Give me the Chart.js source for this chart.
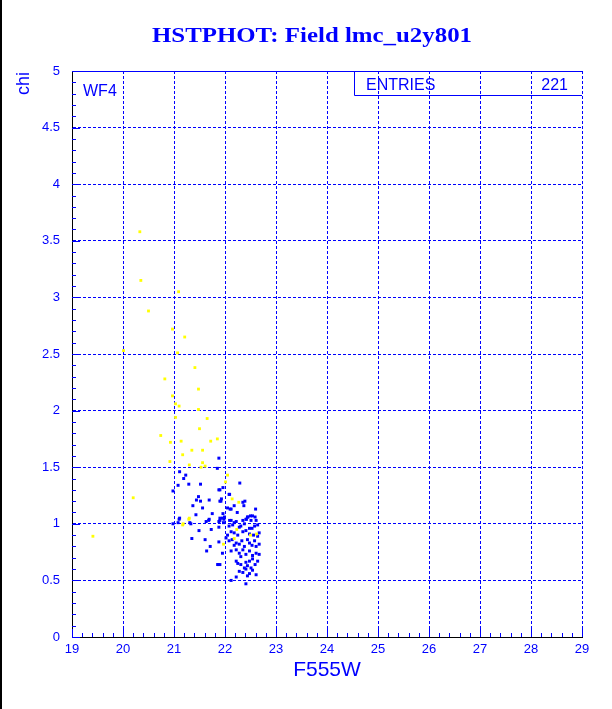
<!DOCTYPE html>
<html>
<head>
<meta charset="utf-8">
<script src="https://cdn.jsdelivr.net/npm/chart.js@4"></script>
<style>
  html, body { margin: 0; padding: 0; background: #fff; }
  #wrap { width: 612px; height: 709px; }
</style>
</head>
<body>
<div id="wrap"><canvas id="grafico" width="612" height="709"></canvas></div>
<script>
// tick labels
const xTickLabels = ['19', '20', '21', '22', '23', '24', '25', '26', '27', '28', '29'];
const yTickLabels = ['0', '0.5', '1', '1.5', '2', '2.5', '3', '3.5', '4', '4.5', '5'];

// yellow stars (F555W, chi)
const yellowF555W = [20.33, 20.35, 21.09, 20.50, 20.97, 21.21, 20.01, 21.07, 21.41, 20.82, 21.48, 20.97, 21.03, 21.10, 21.48, 21.03, 21.65,
  20.74, 20.93, 21.14, 21.50, 21.72, 21.85, 21.17, 21.35, 21.56, 20.92, 21.30, 21.56, 21.61, 21.53, 22.05, 22.01, 22.14, 22.27,
  21.30, 21.18, 22.23, 22.62, 22.50, 21.97, 22.18, 20.20, 19.41, 21.29, 21.17];
const yellowChi = [3.58, 3.15, 3.05, 2.88, 2.72, 2.65, 2.53, 2.51, 2.38, 2.28, 2.19, 2.13, 2.06, 2.04, 2.01, 1.94, 1.93,
  1.78, 1.72, 1.73, 1.84, 1.73, 1.75, 1.61, 1.65, 1.65, 1.55, 1.52, 1.54, 1.51, 1.50, 1.43, 1.37, 1.22, 1.19,
  1.05, 1.00, 0.95, 0.91, 0.90, 0.82, 0.87, 1.23, 0.89, 1.04, 0.99];

// blue stars (F555W, chi)
const blueF555W = [21.88, 21.85, 21.11, 21.23, 21.19, 21.29, 21.52, 21.08, 22.29, 21.96, 21.90, 20.98, 22.09, 21.48, 21.69, 21.52,
  21.44, 21.93, 21.92, 22.39, 21.37, 21.56, 22.05, 22.12, 22.24, 22.37, 22.60, 21.75, 21.96, 22.50, 21.69, 21.11, 21.98, 22.09,
  22.42, 20.98, 21.33, 21.88, 22.08, 21.90, 22.18, 22.35, 22.10, 22.45, 21.90,
  21.10, 21.43, 21.68, 21.63, 21.88, 21.31, 21.08, 21.73, 21.49, 21.35, 21.61, 21.71, 21.64, 21.86, 21.88, 21.88,
  21.95, 21.99, 21.90, 21.97, 22.12, 22.18, 22.22, 22.35, 22.41, 22.44, 22.51, 22.54, 22.59, 22.61,
  22.08, 22.15, 22.28, 22.31, 22.38, 22.48, 22.53, 22.58, 22.64,
  22.12, 22.18, 22.25, 22.35, 22.41, 22.48, 22.56, 22.64, 22.67, 22.05, 22.02,
  22.08, 22.14, 22.22, 22.28, 22.33, 22.38, 22.44, 22.48, 22.53, 22.58, 22.61, 22.67, 22.18,
  22.12, 22.22, 22.28, 22.35, 22.41, 22.48, 22.54, 22.61, 22.67, 22.31, 21.95,
  22.22, 22.25, 22.31, 22.41, 22.48, 22.54, 22.59, 22.38, 22.44, 22.51, 22.64,
  22.28, 22.35, 22.41, 22.48, 22.54, 22.61, 22.44, 22.22, 21.90, 21.86,
  22.12, 22.41];
const blueChi = [1.58, 1.49, 1.46, 1.43, 1.40, 1.35, 1.35, 1.34, 1.36, 1.32, 1.30, 1.29, 1.26, 1.24, 1.21, 1.20,
  1.21, 1.22, 1.20, 1.20, 1.16, 1.14, 1.14, 1.13, 1.10, 1.16, 1.13, 1.09, 1.09, 1.07, 1.04, 1.05, 1.04, 1.03,
  1.04, 1.00, 1.00, 1.30, 1.26, 1.20, 1.16, 1.19, 1.13, 1.06, 1.05,
  1.04, 1.08, 1.03, 1.02, 1.02, 1.01, 1.01, 0.95, 0.94, 0.87, 0.86, 0.80, 0.76, 0.64, 0.84, 0.97,
  1.05, 1.06, 1.03, 1.01, 1.03, 1.01, 1.02, 1.03, 1.04, 1.06, 1.03, 1.07, 1.06, 1.03,
  0.98, 0.99, 0.97, 0.98, 1.00, 0.96, 0.96, 0.98, 0.99,
  0.93, 0.92, 0.90, 0.93, 0.94, 0.91, 0.90, 0.89, 0.92, 0.90, 0.875,
  0.85, 0.86, 0.83, 0.82, 0.85, 0.80, 0.86, 0.83, 0.81, 0.85, 0.80, 0.82, 0.81,
  0.76, 0.77, 0.74, 0.77, 0.73, 0.76, 0.72, 0.74, 0.73, 0.71, 0.74,
  0.67, 0.65, 0.64, 0.66, 0.67, 0.69, 0.64, 0.61, 0.63, 0.61, 0.67,
  0.58, 0.57, 0.60, 0.56, 0.59, 0.55, 0.54, 0.53, 0.64, 0.64,
  0.50, 0.47];

const entriesText = '221';

const BLUE = '#0000ff';
const YELLOW = '#ffff00';

function pontos(xs, ys) {
  return xs.map((v, i) => ({ x: v, y: ys[i] }));
}

// frame, minor ticks and texts of the HBOOK-style picture
const moldura = {
  id: 'moldura',
  beforeDraw(chart) {
    const ctx = chart.ctx;
    ctx.save();
    ctx.fillStyle = '#fff';
    ctx.fillRect(0, 0, chart.width, chart.height);
    ctx.fillStyle = '#000';
    ctx.fillRect(0, 0, 2, chart.height);
    ctx.restore();
  },
  afterDraw(chart) {
    const { ctx, chartArea: a, scales: { x, y } } = chart;
    ctx.save();
    ctx.strokeStyle = BLUE;
    ctx.lineWidth = 1;
    ctx.beginPath();
    for (let i = 0; i <= 50; i++) {
      const py = Math.round(y.getPixelForValue(i / 10)) + 0.5;
      const len = i % 5 === 0 ? 8 : 4;
      ctx.moveTo(a.left, py);
      ctx.lineTo(a.left + len, py);
    }
    for (let i = 0; i <= 50; i++) {
      const px = Math.round(x.getPixelForValue(19 + i / 5)) + 0.5;
      const len = i % 5 === 0 ? 8 : 4;
      ctx.moveTo(px, a.bottom);
      ctx.lineTo(px, a.bottom - len);
    }
    // solid top edge
    const top = Math.round(y.getPixelForValue(5)) + 0.5;
    ctx.moveTo(a.left, top);
    ctx.lineTo(a.right, top);
    ctx.stroke();

    // statistics box
    const bx = 354.5, by = 95.5;
    ctx.beginPath();
    ctx.moveTo(bx, top);
    ctx.lineTo(bx, by);
    ctx.lineTo(a.right, by);
    ctx.stroke();

    ctx.fillStyle = BLUE;
    ctx.textBaseline = 'alphabetic';
    ctx.font = '16px "Liberation Sans", Arial, sans-serif';
    ctx.textAlign = 'left';
    ctx.fillText('ENTRIES', 366, 90);
    ctx.textAlign = 'right';
    ctx.fillText(entriesText, 568, 90);
    ctx.textAlign = 'left';
    ctx.fillText('WF4', 83, 96);

    // x axis title
    ctx.font = '21px "Liberation Sans", Arial, sans-serif';
    ctx.textAlign = 'center';
    ctx.fillText('F555W', (a.left + a.right) / 2, 676);

    // y axis title
    ctx.save();
    ctx.translate(29, 71);
    ctx.rotate(-Math.PI / 2);
    ctx.font = '18px "Liberation Sans", Arial, sans-serif';
    ctx.textAlign = 'right';
    ctx.fillText('chi', -1, 0);
    ctx.restore();

    // main title
    ctx.save();
    ctx.font = 'bold 20px "Liberation Serif", "Times New Roman", serif';
    const titulo = 'HSTPHOT: Field lmc_u2y801';
    const w = ctx.measureText(titulo).width;
    ctx.translate(312, 42);
    ctx.scale(320 / w, 1);
    ctx.textAlign = 'center';
    ctx.fillText(titulo, 0, 0);
    ctx.restore();

    ctx.restore();
  }
};

const ctx = document.getElementById('grafico').getContext('2d');
new Chart(ctx, {
  type: 'scatter',
  data: {
    datasets: [
      {
        label: 'yellow',
        data: pontos(yellowF555W, yellowChi),
        backgroundColor: YELLOW,
        borderWidth: 0,
        pointStyle: 'rect',
        pointRadius: 2
      },
      {
        label: 'blue',
        data: pontos(blueF555W, blueChi),
        backgroundColor: BLUE,
        borderWidth: 0,
        pointStyle: 'rect',
        pointRadius: 2.1
      }
    ]
  },
  options: {
    responsive: false,
    animation: false,
    layout: { padding: { left: 0, right: 30, top: 71, bottom: 0 } },
    plugins: {
      legend: { display: false },
      tooltip: { enabled: false },
      title: { display: false }
    },
    scales: {
      x: {
        type: 'linear',
        min: 19,
        max: 29,
        afterFit: (s) => { s.height = 72; },
        afterBuildTicks: (s) => { s.ticks = xTickLabels.map(t => ({ value: Number(t) })); },
        ticks: {
          color: BLUE,
          padding: 5,
          maxRotation: 0,
          font: { family: '"Liberation Sans", Arial, sans-serif', size: 13 },
          callback: (v, i) => xTickLabels[i]
        },
        grid: { color: BLUE, lineWidth: 1, drawTicks: false },
        border: { color: '#000', width: 1, dash: [3, 2] }
      },
      y: {
        type: 'linear',
        min: 0,
        max: 5,
        afterFit: (s) => { s.width = 72; },
        afterBuildTicks: (s) => { s.ticks = yTickLabels.map(t => ({ value: Number(t) })); },
        ticks: {
          color: BLUE,
          padding: 12,
          font: { family: '"Liberation Sans", Arial, sans-serif', size: 13 },
          callback: (v, i) => yTickLabels[i]
        },
        grid: { color: BLUE, lineWidth: 1, drawTicks: false },
        border: { color: '#000', width: 1, dash: [3, 2] }
      }
    }
  },
  plugins: [moldura]
});
</script>
</body>
</html>
